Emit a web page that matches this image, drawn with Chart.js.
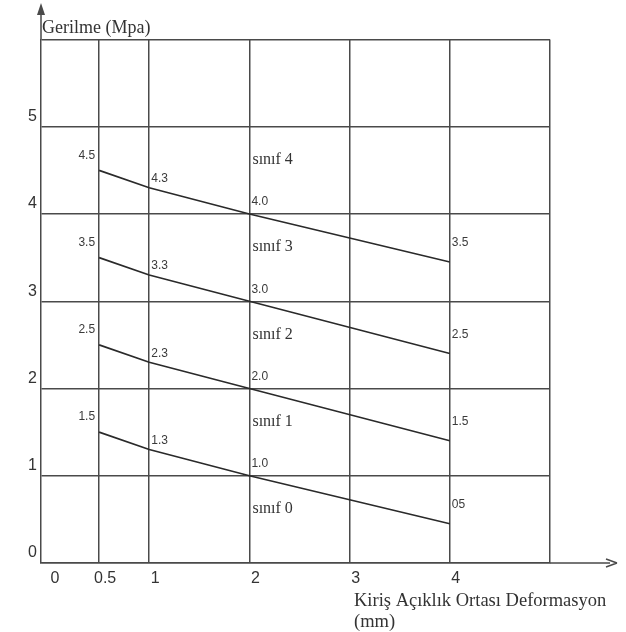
<!DOCTYPE html>
<html>
<head>
<meta charset="utf-8">
<script src="https://cdn.jsdelivr.net/npm/chart.js@4"></script>
<style>
  html, body { margin: 0; padding: 0; background: #fff; }
  #wrap { width: 626px; height: 632px; position: relative; }
</style>
</head>
<body>
<div id="wrap"><canvas id="chart"></canvas></div>
<script>
// deformation (mm) where the boundary lines are read
const deformX = [0.5, 1, 2, 4];

// stress values of each class boundary (as drawn)
const line0 = [1.5, 1.3, 1.0, 0.45];
const line1 = [2.5, 2.3, 2.0, 1.4];
const line2 = [3.5, 3.3, 3.0, 2.4];
const line3 = [4.5, 4.3, 4.0, 3.45];

// text written next to the points
const text0 = ['1.5', '1.3', '1.0', '05'];
const text1 = ['2.5', '2.3', '2.0', '1.5'];
const text2 = ['3.5', '3.3', '3.0', '2.5'];
const text3 = ['4.5', '4.3', '4.0', '3.5'];

const classNames = ['sınıf 0', 'sınıf 1', 'sınıf 2', 'sınıf 3', 'sınıf 4'];

const xTicks = [0, 0.5, 1, 2, 3, 4, 5];
const yTicks = [0, 1, 2, 3, 4, 5, 6];

const lines = [line0, line1, line2, line3];
const texts = [text0, text1, text2, text3];

const GRID = '#4a4a4a';

// point labels, class names, axis titles and arrows
const annotate = {
    id: 'annotate',
    afterDraw(chart) {
        const { ctx, scales: { x, y }, chartArea } = chart;
        ctx.save();

        // value labels
        ctx.font = '12px "Liberation Sans", Arial, sans-serif';
        ctx.fillStyle = '#3a3a3a';
        ctx.textBaseline = 'middle';
        const dy = [-15, -9, -12, -19];
        texts.forEach((t, li) => {
            t.forEach((s, i) => {
                const px = x.getPixelForValue(deformX[i]);
                const py = y.getPixelForValue(lines[li][i]);
                if (i === 0) {
                    ctx.textAlign = 'right';
                    ctx.fillText(s, px - 4, py + dy[i]);
                } else {
                    ctx.textAlign = 'left';
                    ctx.fillText(s, px + 2, py + dy[i]);
                }
            });
        });

        // class names
        ctx.font = '16px "Liberation Serif", "Times New Roman", serif';
        ctx.fillStyle = '#333';
        ctx.textAlign = 'left';
        classNames.forEach((n, i) => {
            ctx.fillText(n, x.getPixelForValue(2) + 3, y.getPixelForValue(i + 0.62));
        });

        // axis titles
        ctx.font = '18px "Liberation Serif", "Times New Roman", serif';
        ctx.fillStyle = '#333';
        ctx.fillText('Gerilme (Mpa)', chartArea.left + 1, 28);
        ctx.font = '18.5px "Liberation Serif", "Times New Roman", serif';
        ctx.fillText('Kiriş Açıklık Ortası Deformasyon', 354, 601);
        ctx.fillText('(mm)', 354, 622);

        // axis arrows
        ctx.strokeStyle = GRID;
        ctx.fillStyle = GRID;
        ctx.lineWidth = 1.5;
        const x0 = chartArea.left;
        const y0 = y.getPixelForValue(0);
        ctx.beginPath();
        ctx.moveTo(x0, chartArea.top);
        ctx.lineTo(x0, 10);
        ctx.moveTo(chartArea.right, y0);
        ctx.lineTo(610, y0);
        ctx.stroke();
        ctx.beginPath();
        ctx.moveTo(x0, 3);
        ctx.lineTo(x0 - 4, 15);
        ctx.lineTo(x0 + 4, 15);
        ctx.closePath();
        ctx.fill();
        ctx.beginPath();
        ctx.moveTo(617, y0);
        ctx.lineTo(606, y0 - 4);
        ctx.moveTo(617, y0);
        ctx.lineTo(606, y0 + 4);
        ctx.stroke();
        ctx.restore();
    }
};

new Chart(document.getElementById('chart'), {
    type: 'line',
    data: {
        datasets: lines.map((l, i) => ({
            label: 'sınır ' + i,
            data: deformX.map((v, k) => ({ x: v, y: l[k] })),
            borderColor: '#2a2a2a',
            borderWidth: 1.6,
            pointRadius: 0,
            tension: 0
        }))
    },
    options: {
        responsive: true,
        maintainAspectRatio: false,
        animation: false,
        layout: { padding: { top: 39.5, right: 76, left: 0, bottom: 0 } },
        plugins: {
            legend: { display: false },
            tooltip: { enabled: false }
        },
        scales: {
            x: {
                type: 'linear',
                min: -0.08,
                max: 5,
                afterBuildTicks: s => { s.ticks = xTicks.map(v => ({ value: v })); },
                afterFit: s => { s.height = 69; },
                grid: {
                    color: c => (c.tick && c.tick.value === 0 ? 'rgba(0,0,0,0)' : GRID),
                    lineWidth: 1.5,
                    drawTicks: false
                },
                border: { color: GRID, width: 1.5 },
                ticks: {
                    padding: 6,
                    labelOffset: 6,
                    color: '#333',
                    font: { family: '"Liberation Sans", Arial, sans-serif', size: 16 },
                    callback: v => (v === 5 ? '' : String(v))
                }
            },
            y: {
                type: 'linear',
                min: 0,
                max: 6,
                afterBuildTicks: s => { s.ticks = yTicks.map(v => ({ value: v })); },
                afterFit: s => { s.width = 41; },
                grid: { color: GRID, lineWidth: 1.5, drawTicks: false },
                border: { color: GRID, width: 1.5 },
                ticks: {
                    padding: 4,
                    labelOffset: -10,
                    color: '#333',
                    font: { family: '"Liberation Sans", Arial, sans-serif', size: 16 },
                    callback: v => (v === 6 ? '' : String(v))
                }
            }
        }
    },
    plugins: [annotate]
});
</script>
</body>
</html>
